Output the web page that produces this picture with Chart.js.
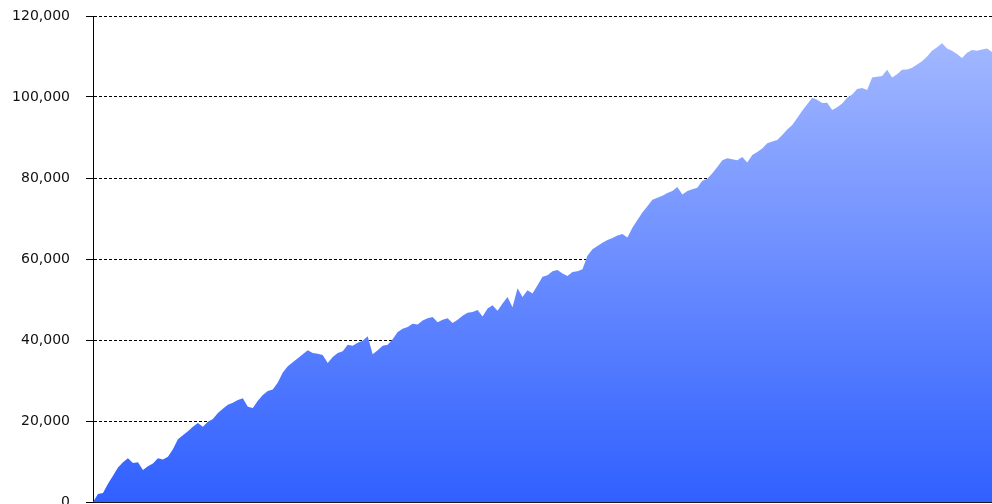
<!DOCTYPE html>
<html>
<head>
<meta charset="utf-8">
<script src="https://cdn.jsdelivr.net/npm/chart.js@4.4.1/dist/chart.umd.min.js"></script>
<style>
  html, body { margin: 0; padding: 0; background: #fff; overflow: hidden; }
  #wrap { position: relative; width: 992px; height: 504px; }
</style>
</head>
<body>
<div id="wrap"><canvas id="c"></canvas></div>
<script>
// Equity curve values (in thousands), sampled left to right
const equityK = [
  0, 2.0, 2.2, 4.5, 6.5, 8.5, 9.8, 10.8, 9.6, 9.8,
  7.9, 8.8, 9.5, 10.8, 10.5, 11.2, 13, 15.5, 16.5, 17.5,
  18.6, 19.5, 18.6, 19.8, 20.5, 22, 23, 24, 24.5, 25.2,
  25.6, 23.5, 23.2, 25, 26.4, 27.4, 27.8, 29.5, 32, 33.5,
  34.5, 35.5, 36.5, 37.5, 36.8, 36.6, 36.3, 34.3, 35.8, 36.8,
  37.2, 38.8, 38.6, 39.3, 39.8, 40.9, 36.5, 37.5, 38.6, 38.8,
  40.2, 42, 42.8, 43.2, 44, 43.8, 44.8, 45.4, 45.7, 44.4,
  45, 45.4, 44.2, 45, 46, 46.7, 46.9, 47.4, 45.8, 47.8,
  48.6, 47.2, 49, 50.6, 48.1, 52.8, 50.6, 52.3, 51.5, 53.5,
  55.6, 56, 57, 57.3, 56.4, 55.8, 56.8, 57, 57.5, 60.8,
  62.4, 63.2, 64, 64.7, 65.2, 65.8, 66.2, 65.3, 67.7, 69.6,
  71.5, 73, 74.6, 75.1, 75.6, 76.3, 76.8, 77.8, 75.9, 76.8,
  77.2, 77.6, 79.3, 79.8, 81.2, 82.7, 84.4, 84.9, 84.6, 84.4,
  85.2, 83.8, 85.7, 86.4, 87.3, 88.6, 89, 89.4, 90.6, 92,
  93.1, 94.8, 96.6, 98.2, 99.8, 99.3, 98.5, 98.6, 96.8, 97.5,
  98.4, 99.8, 100.6, 102, 102.2, 101.7, 104.8, 105, 105.2, 106.7,
  104.8, 105.6, 106.7, 106.8, 107.2, 108, 108.8, 110, 111.4, 112.3,
  113.3, 112, 111.4, 110.6, 109.6, 110.9, 111.6, 111.4, 111.7, 112,
  111.1
];
const equity = equityK.map(v => v * 1000);
const categories = equity.map((_, i) => i + 1);
const yTicks = [0, 20000, 40000, 60000, 80000, 100000, 120000];

const ctx = document.getElementById('c').getContext('2d');
new Chart(ctx, {
  type: 'line',
  data: {
    labels: categories,
    datasets: [{
      data: equity,
      fill: 'origin',
      borderWidth: 0,
      pointRadius: 0,
      tension: 0,
      backgroundColor: (c) => {
        const area = c.chart.chartArea;
        if (!area) return '#6a8cff';
        const g = c.chart.ctx.createLinearGradient(0, area.top, 0, area.bottom);
        g.addColorStop(0, '#a8bcff');
        g.addColorStop(1, '#3060ff');
        return g;
      }
    }]
  },
  options: {
    responsive: true,
    maintainAspectRatio: false,
    animation: false,
    layout: { padding: { left: 0, top: 0, right: 0, bottom: 2 } },
    plugins: { legend: { display: false }, tooltip: { enabled: false } },
    scales: {
      x: {
        type: 'category',
        offset: false,
        ticks: { display: false },
        grid: { display: false, drawTicks: false },
        border: { display: true, color: '#1a1a1a', width: 1 }
      },
      y: {
        min: 0,
        max: 120000,
        afterBuildTicks: (axis) => { axis.ticks = yTicks.map(v => ({ value: v })); },
        afterFit: (axis) => {
          axis.width = 93;
          axis.paddingTop = 16;
          axis.paddingBottom = 0;
        },
        ticks: {
          padding: 16,
          color: '#111',
          font: { family: 'DejaVu Sans', size: 14 },
          callback: (v) => v.toLocaleString('en-US')
        },
        grid: {
          color: '#000',
          lineWidth: 1,
          tickLength: 7,
          tickBorderDash: [],
          tickColor: '#000'
        },
        border: { display: true, color: '#000', width: 1, dash: [3, 2] }
      }
    }
  }
});
</script>
</body>
</html>
